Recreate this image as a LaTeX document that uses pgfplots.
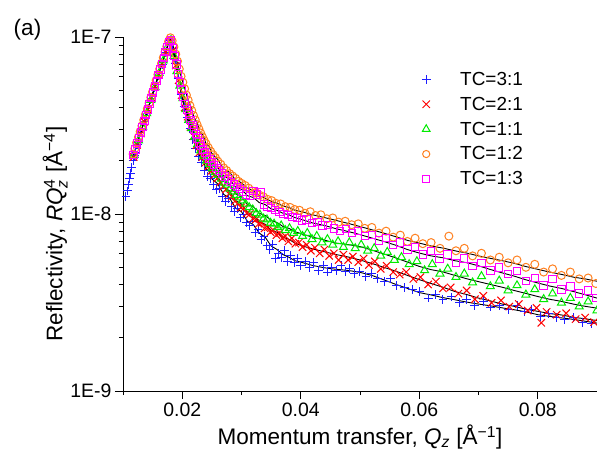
\documentclass[border=0pt]{standalone}
\usepackage{fontspec}
\setmainfont{Liberation Sans}
\usepackage{amsmath}
\usepackage{pgfplots}
\pgfplotsset{compat=1.18}
\definecolor{cBlue}{RGB}{30,30,255}
\definecolor{cRed}{RGB}{255,0,0}
\definecolor{cGreen}{RGB}{0,235,0}
\definecolor{cOrange}{RGB}{255,128,32}
\definecolor{cPink}{RGB}{255,0,255}
\newcommand\tickfont{\fontsize{19.5}{23}\selectfont}
\newcommand\labfont{\fontsize{22.6}{27}\selectfont}
\newcommand\legfont{\fontsize{19}{22}\selectfont}
\begin{document}
\begin{tikzpicture}
\path[use as bounding box] (-123bp,-61bp) rectangle (474bp,391bp);
\begin{axis}[
 at={(0bp,0bp)}, anchor=south west,
 scale only axis, width=474bp, height=354bp,
 xmin=0.01, xmax=0.09, ymin=1e-9, ymax=1e-7,
 ymode=log,
 axis lines=left, axis line style={-, line width=0.9bp},
 tick align=outside,
 major tick length=8bp, minor tick length=4bp,
 tick style={line width=0.9bp, black},
 xtick={0.02,0.04,0.06,0.08},
 minor xtick={0.01,0.03,0.05,0.07,0.09},
 scaled x ticks=false,
 xticklabel style={/pgf/number format/.cd, fixed, fixed zerofill, precision=2, assume math mode=true},
 ytick={1e-9,1e-8,1e-7},
 yticklabels={1E-9,1E-8,1E-7},
 minor ytick={2e-9,3e-9,4e-9,5e-9,6e-9,7e-9,8e-9,9e-9,2e-8,3e-8,4e-8,5e-8,6e-8,7e-8,8e-8,9e-8},
 tick label style={font=\tickfont},
 xlabel={Momentum transfer, \textit{Q}$_{\textit{z}}$ [Å\textsuperscript{−1}]},
 ylabel={Reflectivity, \textit{RQ}$_{\textit{z}}^{\text{4}}$ [Å\textsuperscript{−4}]},
 label style={font=\labfont},
 xlabel style={at={(axis description cs:0.5,-0.13)}, anchor=center},
 ylabel style={at={(axis description cs:-0.143,0.443)}, anchor=center},
 legend style={draw=none, fill=none, at={(axis description cs:0.614,0.913)}, anchor=north west, font=\legfont, row sep=6.2bp, legend cell align=left, /tikz/every odd column/.append style={column sep=23bp}},
]
% TC=3:1
\addplot[only marks, mark=+, mark size=4.4bp, color=cBlue, line width=1bp,
 legend image code/.code={\path (0bp,0bp) (17bp,0bp); \draw[cBlue, line width=1bp] (4.1bp,0bp) -- (12.9bp,0bp) (8.5bp,-4.4bp) -- (8.5bp,4.4bp);}] coordinates {
(0.0105,12.6e-9)(0.0107,13.5e-9)(0.0109,14.6e-9)(0.0111,15.8e-9)(0.0113,17.0e-9)(0.0115,18.3e-9)(0.0117,20.1e-9)(0.0119,21.3e-9)(0.0121,22.4e-9)
(0.0124,24.8e-9)(0.0130,28.8e-9)(0.0136,33.5e-9)(0.0142,38.5e-9)(0.0148,45e-9)(0.0154,52e-9)(0.0160,60.5e-9)(0.0166,70e-9)(0.0172,82e-9)(0.0178,95e-9)
(0.0183,86e-9)(0.0188,71e-9)(0.0193,58e-9)(0.0198,47.5e-9)(0.0203,40.5e-9)(0.0208,35e-9)(0.0213,30.5e-9)(0.0218,26.3e-9)(0.0223,23.5e-9)(0.0228,21.2e-9)
(0.0233,19.6e-9)(0.0238,17.6e-9)(0.0243,16.3e-9)(0.0248,15.9e-9)(0.0253,14.6e-9)(0.0258,13.8e-9)(0.0263,13.9e-9)(0.0268,12.6e-9)(0.0273,11.8e-9)(0.0278,12.2e-9)
(0.0283,11.0e-9)(0.0288,10.3e-9)(0.0293,10.8e-9)(0.0298,9.5e-9)(0.0303,9.9e-9)(0.0308,8.9e-9)(0.0313,8.6e-9)(0.0318,9.1e-9)(0.0323,7.9e-9)(0.0328,8.2e-9)
(0.0333,7.2e-9)(0.0338,7.5e-9)(0.0343,6.6e-9)(0.0348,6.3e-9)(0.0353,6.7e-9)(0.0358,5.6e-9)(0.0363,6.0e-9)(0.0368,5.7e-9)(0.0373,6.2e-9)(0.0378,5.4e-9)
(0.0383,5.8e-9)(0.0390,5.3e-9)(0.0395,5.6e-9)(0.0400,5.1e-9)(0.0408,5.4e-9)(0.0415,5.0e-9)(0.0422,5.3e-9)(0.0430,4.8e-9)(0.0438,5.1e-9)(0.0445,4.7e-9)
(0.0452,5.0e-9)(0.0460,4.8e-9)(0.0468,5.1e-9)(0.0475,4.75e-9)(0.0483,4.9e-9)(0.0490,4.6e-9)(0.0500,4.75e-9)(0.0510,4.45e-9)(0.0520,4.6e-9)(0.0530,4.3e-9)
(0.0542,4.15e-9)(0.0552,4.3e-9)(0.0562,3.95e-9)(0.0575,3.85e-9)(0.0588,3.75e-9)(0.0600,3.65e-9)(0.0615,3.35e-9)(0.0628,3.5e-9)(0.0640,3.3e-9)(0.0655,3.4e-9)
(0.0668,3.15e-9)(0.0680,3.3e-9)(0.0693,3.05e-9)(0.0708,3.2e-9)(0.0720,2.98e-9)(0.0735,3.05e-9)(0.0750,2.9e-9)(0.0765,3.05e-9)(0.0778,2.8e-9)(0.0790,2.9e-9)
(0.0805,2.65e-9)(0.0818,2.75e-9)(0.0832,2.6e-9)(0.0845,2.52e-9)(0.0860,2.6e-9)(0.0875,2.45e-9)(0.0890,2.4e-9)
};
\addlegendentry{TC=3:1}
% TC=2:1
\addplot[only marks, mark=x, mark size=5.2bp, color=cRed, line width=1bp,
 legend image code/.code={\path (0bp,0bp) (17bp,0bp); \draw[cRed, line width=1bp] (4.8bp,-3.7bp) -- (12.2bp,3.7bp) (4.8bp,3.7bp) -- (12.2bp,-3.7bp);}] coordinates {
(0.0118,21.0e-9)(0.0124,24.6e-9)(0.0130,28.5e-9)(0.0136,33.2e-9)(0.0142,38.8e-9)(0.0148,45.5e-9)(0.0154,52.5e-9)(0.0160,61e-9)(0.0166,70.5e-9)(0.0172,82e-9)(0.0178,94e-9)
(0.0184,84e-9)(0.0189,69e-9)(0.0194,57e-9)(0.0199,47e-9)(0.0204,40e-9)(0.0209,35.5e-9)(0.0214,31e-9)(0.0219,27.5e-9)(0.0224,24.5e-9)(0.0229,22.3e-9)
(0.0234,21e-9)(0.0239,19.5e-9)(0.0244,18.6e-9)(0.0249,17.5e-9)(0.0254,16.6e-9)(0.0259,15.9e-9)(0.0264,15.1e-9)(0.0269,14.3e-9)(0.0274,13.8e-9)(0.0279,13.0e-9)
(0.0284,12.6e-9)(0.0289,11.8e-9)(0.0294,11.5e-9)(0.0299,10.9e-9)(0.0304,10.8e-9)(0.0309,10.1e-9)(0.0314,10.0e-9)(0.0319,9.4e-9)(0.0324,9.3e-9)(0.0329,8.8e-9)
(0.0334,8.9e-9)(0.0339,8.3e-9)(0.0344,8.4e-9)(0.0349,7.9e-9)(0.0354,8.1e-9)(0.0359,7.6e-9)(0.0364,7.8e-9)(0.0369,7.3e-9)(0.0374,7.5e-9)(0.0379,7.0e-9)
(0.0385,7.3e-9)(0.0391,6.8e-9)(0.0397,6.9e-9)(0.0403,6.5e-9)(0.0410,6.7e-9)(0.0417,6.2e-9)(0.0424,6.45e-9)(0.0432,6.0e-9)(0.0440,6.3e-9)(0.0448,5.8e-9)
(0.0456,6.0e-9)(0.0464,5.5e-9)(0.0472,5.9e-9)(0.0480,5.5e-9)(0.0488,5.75e-9)(0.0497,5.35e-9)(0.0506,5.6e-9)(0.0515,5.15e-9)(0.0525,5.4e-9)(0.0535,4.9e-9)
(0.0545,5.1e-9)(0.0556,4.7e-9)(0.0567,4.55e-9)(0.0578,4.7e-9)(0.0590,4.3e-9)(0.0602,4.4e-9)(0.0615,4.0e-9)(0.0628,4.15e-9)(0.0640,3.8e-9)(0.0653,3.85e-9)
(0.0666,3.55e-9)(0.0680,3.7e-9)(0.0694,3.3e-9)(0.0708,3.45e-9)(0.0722,3.15e-9)(0.0738,3.25e-9)(0.0752,3.0e-9)(0.0768,3.1e-9)(0.0783,2.85e-9)(0.0798,2.95e-9)
(0.0806,2.43e-9)(0.0815,2.8e-9)(0.0832,2.7e-9)(0.0848,2.75e-9)(0.0864,2.55e-9)(0.0880,2.6e-9)(0.0895,2.45e-9)
};
\addlegendentry{TC=2:1}
% TC=1:1
\addplot[only marks, mark=triangle, mark size=4.6bp, color=cGreen, line width=1bp,
 legend image code/.code={\path (0bp,0bp) (17bp,0bp); \draw[cGreen, line width=1bp] (8.5bp,4.4bp) -- (12.3bp,-2.2bp) -- (4.7bp,-2.2bp) -- cycle;}] coordinates {
(0.0119,21.5e-9)(0.0126,26e-9)(0.0133,31e-9)(0.0140,37e-9)(0.0147,44e-9)(0.0154,52e-9)(0.0161,62.5e-9)(0.0168,73.5e-9)(0.0175,88e-9)
(0.0181,96e-9)(0.0186,78e-9)(0.0191,64e-9)(0.0196,53e-9)(0.0201,45e-9)(0.0206,39e-9)(0.0211,34e-9)(0.0216,30.5e-9)(0.0221,27.3e-9)(0.0226,24.8e-9)
(0.0231,22.8e-9)(0.0236,21.3e-9)(0.0241,20.0e-9)(0.0246,19.1e-9)(0.0251,18.2e-9)(0.0256,17.2e-9)(0.0261,16.6e-9)(0.0266,15.8e-9)(0.0271,15.0e-9)(0.0276,14.6e-9)
(0.0281,13.9e-9)(0.0286,13.4e-9)(0.0291,12.8e-9)(0.0296,12.4e-9)(0.0301,11.9e-9)(0.0307,11.4e-9)(0.0313,10.9e-9)(0.0319,10.6e-9)(0.0325,10.1e-9)(0.0331,9.9e-9)
(0.0337,9.4e-9)(0.0343,9.3e-9)(0.0349,8.9e-9)(0.0355,8.8e-9)(0.0361,8.4e-9)(0.0367,8.6e-9)(0.0374,8.1e-9)(0.0381,8.3e-9)(0.0388,7.8e-9)(0.0395,8.0e-9)
(0.0403,7.5e-9)(0.0411,7.8e-9)(0.0419,7.2e-9)(0.0427,7.5e-9)(0.0436,6.9e-9)(0.0445,7.2e-9)(0.0454,6.7e-9)(0.0463,7.0e-9)(0.0472,6.5e-9)(0.0482,6.9e-9)
(0.0492,6.4e-9)(0.0502,6.7e-9)(0.0513,6.2e-9)(0.0524,6.4e-9)(0.0535,5.8e-9)(0.0546,6.1e-9)(0.0558,5.5e-9)(0.0570,5.7e-9)(0.0583,5.2e-9)(0.0596,5.4e-9)
(0.0609,4.8e-9)(0.0622,5.2e-9)(0.0635,4.6e-9)(0.0648,4.9e-9)(0.0662,4.4e-9)(0.0676,4.6e-9)(0.0690,4.1e-9)(0.0705,4.45e-9)(0.0720,3.9e-9)(0.0735,4.2e-9)
(0.0750,3.7e-9)(0.0765,3.95e-9)(0.0780,3.5e-9)(0.0795,3.75e-9)(0.0810,3.3e-9)(0.0825,3.55e-9)(0.0840,3.15e-9)(0.0855,3.35e-9)(0.0870,3.0e-9)(0.0885,3.2e-9)(0.0900,2.85e-9)
};
\addlegendentry{TC=1:1}
% TC=1:2
\addplot[only marks, mark=o, mark size=4bp, color=cOrange, line width=1bp,
 legend image code/.code={\path (0bp,0bp) (17bp,0bp); \draw[cOrange, line width=1bp] (8.5bp,0bp) circle[radius=3.6bp];}] coordinates {
(0.0117,21.8e-9)(0.0120,23.4e-9)(0.0123,25.3e-9)(0.0126,27.2e-9)(0.0129,29.3e-9)(0.0132,31.5e-9)(0.0135,34e-9)(0.0138,36.5e-9)(0.0141,39.3e-9)(0.0144,42.3e-9)
(0.0147,45.6e-9)(0.0150,49e-9)(0.0153,52.8e-9)(0.0156,57e-9)(0.0159,61.3e-9)(0.0162,66e-9)(0.0165,71e-9)(0.0168,76.5e-9)(0.0171,82.3e-9)(0.0174,88.5e-9)(0.0177,94.5e-9)(0.0180,99e-9)
(0.0183,95e-9)(0.0186,88e-9)(0.0189,80e-9)(0.0192,73e-9)(0.0195,66e-9)(0.0198,60e-9)(0.0201,55.5e-9)(0.0204,51e-9)(0.0207,47e-9)(0.0210,44e-9)
(0.0213,41e-9)(0.0216,38.5e-9)(0.0219,36e-9)(0.0222,34e-9)(0.0225,32e-9)(0.0228,30.3e-9)(0.0231,28.7e-9)(0.0234,27.3e-9)(0.0237,26e-9)(0.0240,25e-9)
(0.0244,23.7e-9)(0.0248,22.6e-9)(0.0252,21.6e-9)(0.0256,20.8e-9)(0.0260,19.9e-9)(0.0265,19.1e-9)(0.0270,18.2e-9)(0.0275,17.6e-9)(0.0280,16.9e-9)(0.0285,16.4e-9)
(0.0290,15.9e-9)(0.0295,15.3e-9)(0.0300,14.9e-9)(0.0306,14.5e-9)(0.0312,14.0e-9)(0.0318,13.5e-9)(0.0324,13.2e-9)(0.0330,12.8e-9)(0.0337,12.5e-9)(0.0344,12.1e-9)
(0.0351,11.9e-9)(0.0358,11.5e-9)(0.0366,11.4e-9)(0.0374,11.0e-9)(0.0382,10.9e-9)(0.0390,10.6e-9)(0.0398,10.5e-9)(0.0407,10.1e-9)(0.0416,10.3e-9)(0.0425,9.8e-9)
(0.0434,9.9e-9)(0.0444,9.4e-9)(0.0454,9.5e-9)(0.0464,9.0e-9)(0.0475,9.1e-9)(0.0486,8.7e-9)(0.0497,8.8e-9)(0.0508,8.3e-9)(0.0520,8.4e-9)(0.0532,7.8e-9)
(0.0544,8.0e-9)(0.0556,7.4e-9)(0.0568,7.6e-9)(0.0580,7.0e-9)(0.0593,7.3e-9)(0.0606,6.8e-9)(0.0620,6.9e-9)(0.0635,6.4e-9)(0.0650,7.5e-9)(0.0662,6.2e-9)
(0.0676,6.4e-9)(0.0690,5.8e-9)(0.0705,6.0e-9)(0.0720,5.5e-9)(0.0735,5.7e-9)(0.0750,5.3e-9)(0.0765,5.5e-9)(0.0780,5.0e-9)(0.0795,5.2e-9)(0.0810,4.7e-9)
(0.0825,4.9e-9)(0.0840,4.5e-9)(0.0855,4.7e-9)(0.0870,4.3e-9)(0.0885,4.35e-9)(0.0898,4.05e-9)
};
\addlegendentry{TC=1:2}
% TC=1:3
\addplot[only marks, mark=square, mark size=3.7bp, color=cPink, line width=1bp,
 legend image code/.code={\path (0bp,0bp) (17bp,0bp); \draw[cPink, line width=1bp] (5.2bp,-3.3bp) rectangle (11.8bp,3.3bp);}] coordinates {
(0.0118,21.5e-9)(0.0121,23.2e-9)(0.0124,25.0e-9)(0.0127,26.8e-9)(0.0130,28.9e-9)(0.0133,31.1e-9)(0.0136,33.6e-9)(0.0139,36.2e-9)(0.0142,38.9e-9)(0.0145,41.9e-9)
(0.0148,45.2e-9)(0.0151,48.7e-9)(0.0154,52.4e-9)(0.0157,56.5e-9)(0.0160,61e-9)(0.0163,65.5e-9)(0.0166,70.5e-9)(0.0169,76e-9)(0.0172,82e-9)(0.0175,88e-9)(0.0178,94e-9)(0.0181,96e-9)
(0.0184,87e-9)(0.0187,78e-9)(0.0190,70e-9)(0.0193,62e-9)(0.0196,55.5e-9)(0.0199,50e-9)(0.0202,46e-9)(0.0205,42e-9)(0.0208,39e-9)(0.0211,36.5e-9)
(0.0214,34e-9)(0.0217,31.8e-9)(0.0220,30e-9)(0.0223,28.3e-9)(0.0226,26.7e-9)(0.0229,25.4e-9)(0.0232,24.3e-9)(0.0235,23.2e-9)(0.0238,22.3e-9)(0.0242,21.2e-9)
(0.0246,20.4e-9)(0.0250,19.6e-9)(0.0254,18.9e-9)(0.0258,18.2e-9)(0.0262,17.6e-9)(0.0267,16.9e-9)(0.0272,16.3e-9)(0.0277,15.7e-9)(0.0282,15.2e-9)(0.0287,14.7e-9)
(0.0292,14.2e-9)(0.0297,13.8e-9)(0.0302,13.4e-9)(0.0308,12.9e-9)(0.0314,12.6e-9)(0.0320,13.5e-9)(0.0326,12.9e-9)(0.0332,13.2e-9)(0.0338,11.3e-9)(0.0344,11.0e-9)
(0.0350,10.8e-9)(0.0357,10.5e-9)(0.0364,10.3e-9)(0.0371,10.0e-9)(0.0378,9.9e-9)(0.0386,9.6e-9)(0.0394,9.5e-9)(0.0402,9.2e-9)(0.0410,9.3e-9)(0.0419,8.9e-9)
(0.0428,9.0e-9)(0.0437,8.6e-9)(0.0446,8.7e-9)(0.0456,8.3e-9)(0.0466,8.0e-9)(0.0476,8.2e-9)(0.0486,7.8e-9)(0.0497,8.0e-9)(0.0508,7.5e-9)(0.0520,7.6e-9)
(0.0532,7.1e-9)(0.0544,7.3e-9)(0.0556,6.7e-9)(0.0568,6.9e-9)(0.0580,6.3e-9)(0.0593,6.5e-9)(0.0606,5.9e-9)(0.0620,6.2e-9)(0.0634,5.6e-9)(0.0648,5.9e-9)
(0.0662,5.3e-9)(0.0676,5.6e-9)(0.0690,5.1e-9)(0.0705,5.3e-9)(0.0720,4.8e-9)(0.0735,5.0e-9)(0.0750,4.6e-9)(0.0765,4.75e-9)(0.0780,4.2e-9)(0.0795,4.35e-9)
(0.0810,3.95e-9)(0.0825,4.3e-9)(0.0840,3.75e-9)(0.0855,3.9e-9)(0.0870,3.55e-9)(0.0885,3.7e-9)(0.0898,3.35e-9)
};
\addlegendentry{TC=1:3}
% fits
\addplot[black, line width=0.9bp, forget plot] coordinates {
(0.0117,21e-9)(0.013,29e-9)(0.014,37.2e-9)(0.015,47.6e-9)(0.016,61e-9)(0.017,78e-9)(0.018,100e-9)(0.0185,88e-9)(0.019,75e-9)(0.0195,65e-9)(0.020,57e-9)(0.0205,50e-9)(0.021,44e-9)(0.0215,40e-9)(0.022,35e-9)(0.0225,33e-9)(0.023,29e-9)(0.0235,28e-9)(0.024,25e-9)(0.0245,24.2e-9)(0.025,22e-9)(0.026,20.3e-9)(0.027,18e-9)(0.028,17.2e-9)(0.029,15.6e-9)(0.030,15.0e-9)(0.031,14.0e-9)(0.032,13.5e-9)(0.033,12.7e-9)(0.034,12.3e-9)(0.035,11.8e-9)(0.036,11.5e-9)(0.037,11.1e-9)(0.038,10.9e-9)(0.039,10.5e-9)(0.040,10.35e-9)(0.042,9.9e-9)(0.044,9.55e-9)(0.046,9.2e-9)(0.048,8.85e-9)(0.050,8.5e-9)(0.052,8.15e-9)(0.054,7.8e-9)(0.056,7.45e-9)(0.058,7.1e-9)(0.060,6.85e-9)(0.062,6.6e-9)(0.064,6.42e-9)(0.066,6.2e-9)(0.068,6.02e-9)(0.070,5.8e-9)(0.072,5.62e-9)(0.074,5.45e-9)(0.076,5.27e-9)(0.078,5.05e-9)(0.080,4.87e-9)(0.082,4.7e-9)(0.084,4.56e-9)(0.086,4.4e-9)(0.088,4.3e-9)(0.090,4.17e-9)
};
\addplot[black, line width=0.9bp, forget plot] coordinates {
(0.0117,21e-9)(0.013,29e-9)(0.014,37.2e-9)(0.015,47.6e-9)(0.016,61e-9)(0.017,78e-9)(0.018,100e-9)(0.0185,85e-9)(0.019,70e-9)(0.0195,57e-9)(0.020,48e-9)(0.0205,43.5e-9)(0.021,37e-9)(0.0215,34e-9)(0.022,29e-9)(0.0225,27.5e-9)(0.023,24.5e-9)(0.0235,24e-9)(0.024,21.5e-9)(0.0245,21.2e-9)(0.025,19.5e-9)(0.026,18.3e-9)(0.027,16.4e-9)(0.028,15.7e-9)(0.029,14.2e-9)(0.030,13.8e-9)(0.031,12.7e-9)(0.032,12.4e-9)(0.033,11.6e-9)(0.034,11.3e-9)(0.035,10.7e-9)(0.036,10.5e-9)(0.037,10.1e-9)(0.038,9.9e-9)(0.039,9.55e-9)(0.040,9.35e-9)(0.042,8.9e-9)(0.044,8.62e-9)(0.046,8.25e-9)(0.048,7.97e-9)(0.050,7.65e-9)(0.052,7.32e-9)(0.054,7.0e-9)(0.056,6.67e-9)(0.058,6.3e-9)(0.060,6.02e-9)(0.062,5.8e-9)(0.064,5.66e-9)(0.066,5.45e-9)(0.068,5.31e-9)(0.070,5.1e-9)(0.072,4.86e-9)(0.074,4.65e-9)(0.076,4.46e-9)(0.078,4.25e-9)(0.080,4.08e-9)(0.082,3.92e-9)(0.084,3.8e-9)(0.086,3.65e-9)(0.088,3.5e-9)(0.090,3.35e-9)
};
\addplot[black, line width=0.9bp, forget plot] coordinates {
(0.0117,21e-9)(0.013,29e-9)(0.014,37.2e-9)(0.015,47.6e-9)(0.016,61e-9)(0.017,78e-9)(0.018,100e-9)(0.0185,84e-9)(0.019,68e-9)(0.0195,57e-9)(0.020,46e-9)(0.0205,41.5e-9)(0.021,35e-9)(0.0215,32.5e-9)(0.022,27.5e-9)(0.0225,26e-9)(0.023,23e-9)(0.0235,22.5e-9)(0.024,20.3e-9)(0.0245,20e-9)(0.025,18.3e-9)(0.026,17.3e-9)(0.027,15.3e-9)(0.028,14.6e-9)(0.029,13.0e-9)(0.030,12.5e-9)(0.031,11.3e-9)(0.032,11.0e-9)(0.033,10.1e-9)(0.034,9.8e-9)(0.035,9.2e-9)(0.036,8.95e-9)(0.037,8.5e-9)(0.038,8.3e-9)(0.039,7.95e-9)(0.040,7.75e-9)(0.042,7.4e-9)(0.044,7.12e-9)(0.046,6.85e-9)(0.048,6.72e-9)(0.050,6.55e-9)(0.052,6.26e-9)(0.054,5.95e-9)(0.056,5.66e-9)(0.058,5.35e-9)(0.060,5.06e-9)(0.062,4.85e-9)(0.064,4.71e-9)(0.066,4.5e-9)(0.068,4.31e-9)(0.070,4.15e-9)(0.072,4.0e-9)(0.074,3.86e-9)(0.076,3.7e-9)(0.078,3.56e-9)(0.080,3.42e-9)(0.082,3.3e-9)(0.084,3.21e-9)(0.086,3.1e-9)(0.088,3.01e-9)(0.090,2.94e-9)
};
\addplot[black, line width=0.9bp, forget plot] coordinates {
(0.0117,21e-9)(0.013,29e-9)(0.014,37.2e-9)(0.015,47.6e-9)(0.016,61e-9)(0.017,78e-9)(0.018,100e-9)(0.0185,83e-9)(0.019,67e-9)(0.0195,56e-9)(0.020,45e-9)(0.0205,40.5e-9)(0.021,34e-9)(0.0215,31.5e-9)(0.022,26.5e-9)(0.0225,25e-9)(0.023,22e-9)(0.0235,21.4e-9)(0.024,19.2e-9)(0.0245,19e-9)(0.025,17.2e-9)(0.026,16.2e-9)(0.027,14.2e-9)(0.028,13.5e-9)(0.029,11.9e-9)(0.030,11.4e-9)(0.031,10.2e-9)(0.032,9.9e-9)(0.033,9.0e-9)(0.034,8.75e-9)(0.035,8.1e-9)(0.036,7.9e-9)(0.037,7.4e-9)(0.038,7.2e-9)(0.039,6.85e-9)(0.040,6.65e-9)(0.042,6.35e-9)(0.044,6.12e-9)(0.046,5.9e-9)(0.048,5.72e-9)(0.050,5.5e-9)(0.052,5.26e-9)(0.054,5.0e-9)(0.056,4.76e-9)(0.058,4.5e-9)(0.060,4.26e-9)(0.062,4.05e-9)(0.064,3.86e-9)(0.066,3.65e-9)(0.068,3.51e-9)(0.070,3.35e-9)(0.072,3.23e-9)(0.074,3.1e-9)(0.076,3.01e-9)(0.078,2.9e-9)(0.080,2.82e-9)(0.082,2.74e-9)(0.084,2.69e-9)(0.086,2.61e-9)(0.088,2.56e-9)(0.090,2.5e-9)
};
\addplot[black, line width=0.9bp, forget plot] coordinates {
(0.0117,21e-9)(0.013,29e-9)(0.014,37.2e-9)(0.015,47.6e-9)(0.016,61e-9)(0.017,78e-9)(0.018,100e-9)(0.0185,83e-9)(0.019,66e-9)(0.0195,55e-9)(0.020,44e-9)(0.0205,39.5e-9)(0.021,33e-9)(0.0215,30.5e-9)(0.022,25.5e-9)(0.0225,24e-9)(0.023,21e-9)(0.0235,20.2e-9)(0.024,18e-9)(0.0245,17.5e-9)(0.025,15.8e-9)(0.026,14.8e-9)(0.027,12.9e-9)(0.028,12.3e-9)(0.029,10.8e-9)(0.030,10.3e-9)(0.031,9.1e-9)(0.032,8.7e-9)(0.033,7.8e-9)(0.034,7.4e-9)(0.035,6.6e-9)(0.036,6.3e-9)(0.037,5.9e-9)(0.038,5.7e-9)(0.039,5.45e-9)(0.040,5.35e-9)(0.042,5.12e-9)(0.044,4.97e-9)(0.046,4.87e-9)(0.048,4.8e-9)(0.050,4.68e-9)(0.052,4.5e-9)(0.054,4.25e-9)(0.056,4.01e-9)(0.058,3.8e-9)(0.060,3.6e-9)(0.062,3.49e-9)(0.064,3.37e-9)(0.066,3.28e-9)(0.068,3.18e-9)(0.070,3.1e-9)(0.072,3.03e-9)(0.074,2.95e-9)(0.076,2.88e-9)(0.078,2.8e-9)(0.080,2.7e-9)(0.082,2.64e-9)(0.084,2.59e-9)(0.086,2.54e-9)(0.088,2.48e-9)(0.090,2.42e-9)
};
\end{axis}
\node[font=\labfont] at (-95.5bp,361bp) {(a)};
\end{tikzpicture}
\end{document}
